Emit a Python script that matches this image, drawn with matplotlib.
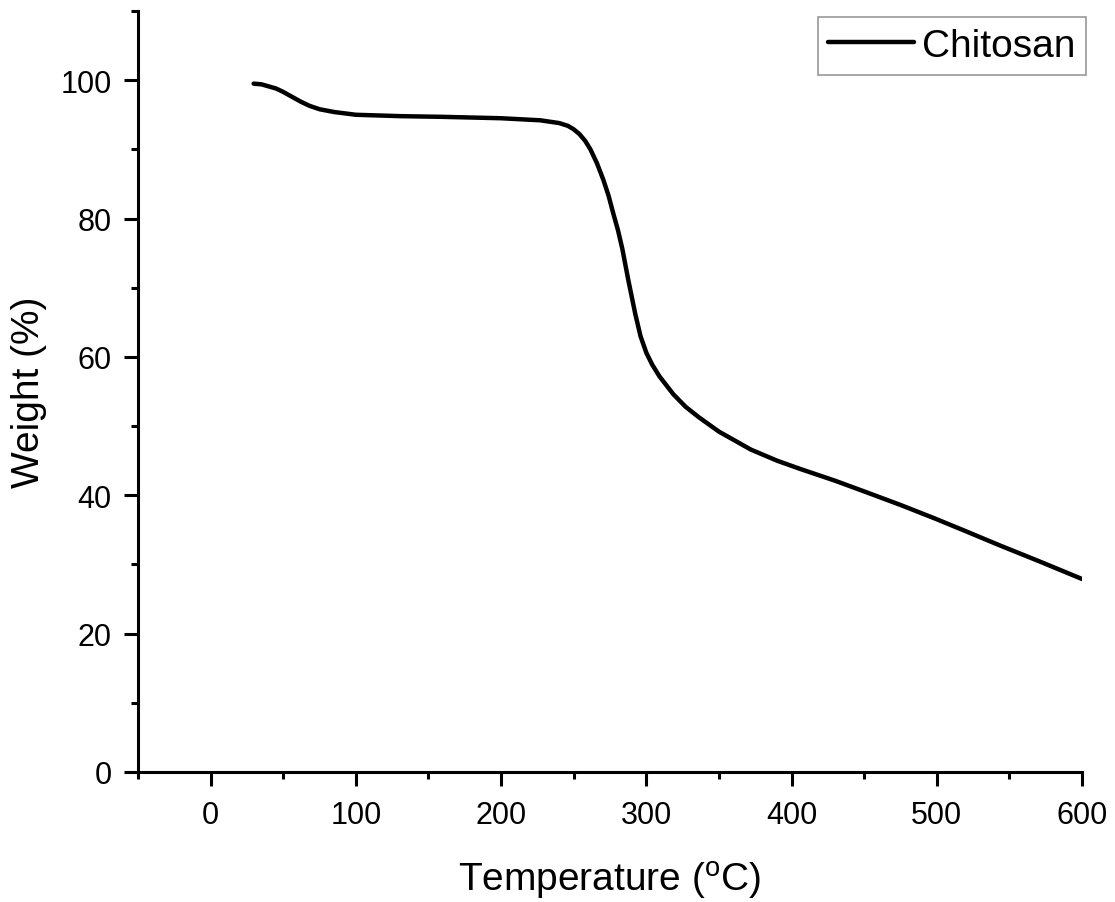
import matplotlib
matplotlib.use("Agg")
import matplotlib.pyplot as plt
from matplotlib.ticker import MultipleLocator

# TGA curve
temperature = [29.6, 35, 40, 45, 50, 56, 62, 68, 75, 85, 100, 131, 160, 200, 227,
               240, 246, 250, 254, 258, 261.5, 266, 270.4, 274, 277.3, 280.5,
               283.5, 287.6, 292.4, 296, 300, 304, 309, 318.6, 327, 336, 350,
               372, 390, 406, 430, 452, 475, 498, 520, 544, 570, 600]
weight = [99.5, 99.4, 99.1, 98.8, 98.3, 97.6, 96.9, 96.3, 95.8, 95.4, 95.0, 94.8,
          94.7, 94.5, 94.2, 93.8, 93.4, 92.9, 92.2, 91.2, 90.0, 88.0, 85.6, 83.3,
          80.7, 78.3, 75.6, 71.1, 66.2, 63.0, 60.6, 58.9, 57.2, 54.6, 52.8, 51.3,
          49.2, 46.6, 45.0, 43.8, 42.1, 40.4, 38.6, 36.7, 34.8, 32.7, 30.5, 27.9]

plt.rcParams["font.family"] = ["Liberation Sans", "DejaVu Sans"]
plt.rcParams["mathtext.default"] = "regular"

fig = plt.figure(figsize=(11.15, 9.03), dpi=100)
ax = fig.add_axes([0.1238, 0.1440, 0.9704 - 0.1238, 0.9867 - 0.1440])

ax.plot(temperature, weight, color="black", linewidth=3.2,
        solid_joinstyle="round", solid_capstyle="round", label="Chitosan")

ax.set_xlim(-50, 600)
ax.set_ylim(0, 110)
ax.xaxis.set_major_locator(MultipleLocator(100))
ax.xaxis.set_minor_locator(MultipleLocator(50))
ax.yaxis.set_major_locator(MultipleLocator(20))
ax.yaxis.set_minor_locator(MultipleLocator(10))

for side in ("top", "right"):
    ax.spines[side].set_visible(False)
for side in ("left", "bottom"):
    ax.spines[side].set_linewidth(2.2)

ax.tick_params(which="major", direction="out", length=10, width=2.2,
               labelsize=22)
ax.tick_params(axis="x", which="major", pad=10)
ax.tick_params(axis="y", which="major", pad=9)
ax.tick_params(which="minor", direction="out", length=5, width=2.2)

ax.set_xlabel("Temperature ($^{o}$C)", fontsize=28, labelpad=21)
ax.set_ylabel("Weight (%)", fontsize=28, labelpad=10)

leg = ax.legend(loc="upper right", bbox_to_anchor=(1086 / 1115, 1 - 18 / 903),
                bbox_transform=fig.transFigure, fontsize=28, frameon=True,
                fancybox=False, handlelength=2.2, handletextpad=0.2,
                borderpad=0.28, borderaxespad=0)
leg.get_frame().set_edgecolor("#7f7f7f")
leg.get_frame().set_linewidth(1.2)

fig.savefig("out.png", dpi=100)
